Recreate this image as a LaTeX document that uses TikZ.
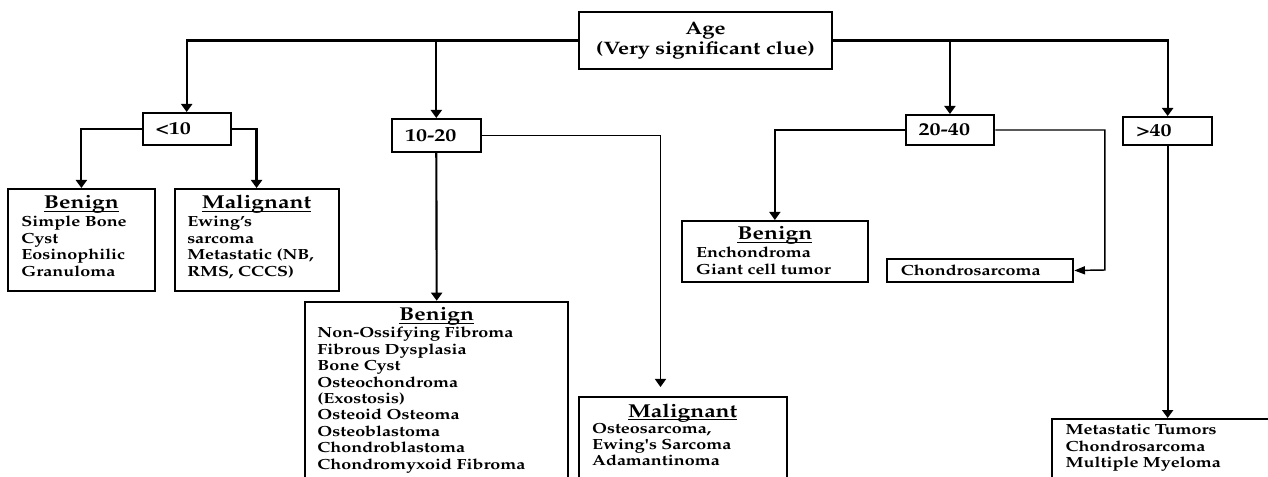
\documentclass[tikz,border=0pt]{standalone}
\usepackage[T1]{fontenc}
\usepackage{mathpazo}
\usepackage{graphicx}
\usetikzlibrary{arrows.meta}
\newdimen\pxu \pxu=0.75pt
\newcommand\sx[1]{\scalebox{1.2245}[1]{#1}}
\newcommand\ulx[1]{\setbox0\hbox{#1}\rlap{\rule[-2pt]{\wd0}{0.8pt}}\box0}
\newcommand\bodyfont{\fontsize{11}{13}\selectfont\bfseries}
\newcommand\headfont{\fontsize{14}{16}\selectfont\bfseries}
\newcommand\labfont{\fontsize{13.5}{15}\selectfont\bfseries}
\tikzset{
  frame/.style={draw, line width=1.5pt, inner sep=0pt, anchor=north west},
  labbox/.style={frame, align=left, font=\labfont, inner xsep=13\pxu},
  txt/.style={inner sep=0pt, font=\bodyfont, anchor=base west},
  head/.style={inner sep=0pt, font=\headfont, anchor=base},
  conn/.style={line width=1.6pt, -{Triangle[length=6pt,width=8.25pt]}},
  thinconn/.style={line width=1.1pt, -{Triangle[length=6pt,width=8.25pt]}},
  hconn/.style={line width=1.1pt, -{Triangle[length=8pt,width=6pt]}},
}
\newcommand\txtlines[4]{%
  \foreach \t [count=\i from 0] in {#4} {%
    \pgfmathsetmacro\yy{#3+\i*16.4}
    \node[txt] (#1-\i) at (#2,\yy) {\sx{\t}};
  }}
\begin{document}
\begin{tikzpicture}[x=0.75pt,y=-0.75pt]
\useasboundingbox (0,0) rectangle (1268,477);
\clip (0,0) rectangle (1268,477);
% top
\node[frame, minimum width=253.8\pxu, minimum height=57\pxu, align=center, font=\labfont] (age) at (577.6,11) {\sx{Age}\\\sx{(Very significant clue)}};
% age groups
\node[labbox, minimum height=32\pxu, text width=62.2\pxu] (lt10) at (141.6,112) {\sx{<10}};
\node[labbox, minimum height=33\pxu, text width=62.6\pxu] (b1020) at (391,118) {\sx{10-20}};
\node[labbox, minimum height=30\pxu, text width=62.7\pxu] (b2040) at (904.6,114) {\sx{20-40}};
\node[labbox, minimum height=28\pxu, text width=62.7\pxu] (gt40) at (1122.3,116) {\sx{>40}};
% result boxes
\node[frame, minimum width=146.2\pxu, minimum height=102\pxu] (ben1) at (7.3,188) {};
\node[frame, minimum width=164.1\pxu, minimum height=102\pxu] (mal1) at (173.5,188) {};
\node[frame, minimum width=263.2\pxu, minimum height=195\pxu] (ben2) at (304.1,300.7) {};
\node[frame, minimum width=208.2\pxu, minimum height=100\pxu] (mal2) at (577.6,396) {};
\node[frame, minimum width=185.9\pxu, minimum height=61\pxu] (ben3) at (680.9,220) {};
\node[frame, minimum width=186\pxu, minimum height=23\pxu] (chon) at (886.3,258) {};
\node[frame, minimum width=260\pxu, minimum height=80\pxu] (meta) at (1051.1,418) {};
% texts
\node[head] (ben1h) at (ben1.north |- 0,209) {\sx{\ulx{Benign}}};
\txtlines{ben1t}{21.2}{227}{Simple Bone,Cyst,Eosinophilic,Granuloma}
\node[head] (mal1h) at (mal1.north |- 0,209) {\sx{\ulx{Malignant}}};
\txtlines{mal1t}{187}{227}{Ewing's,sarcoma,{Metastatic (NB,},{RMS, CCCS)}}
\node[head] (ben2h) at (ben2.north |- 0,321) {\sx{\ulx{Benign}}};
\txtlines{ben2t}{317.1}{338}{Non-Ossifying Fibroma,Fibrous Dysplasia,Bone Cyst,Osteochondroma,(Exostosis),Osteoid Osteoma,Osteoblastoma,Chondroblastoma,Chondromyxoid Fibroma}
\node[head] (mal2h) at (mal2.north |- 0,417) {\sx{\ulx{Malignant}}};
\txtlines{mal2t}{591.8}{433}{{Osteosarcoma,},Ewing\textquotesingle s Sarcoma,Adamantinoma}
\node[head] (ben3h) at (ben3.north |- 0,240) {\sx{\ulx{Benign}}};
\txtlines{ben3t}{695.9}{258}{Enchondroma,Giant cell tumor}
\txtlines{chont}{900.6}{276}{Chondrosarcoma}
\txtlines{metat}{1065.4}{435}{Metastatic Tumors,Chondrosarcoma,Multiple Myeloma}
% connectors
\coordinate (m2in) at (660.5,387);
\coordinate (cturn) at (1104.8,270);
\draw[conn] (age.west) -| (lt10.north);
\draw[conn] (age.west -| b1020.north) -- (b1020.north);
\draw[conn] (age.east) -| (gt40.north);
\draw[conn] (age.east -| b2040.north) -- (b2040.north);
\draw[conn] (lt10.west) -| (ben1.north);
\draw[conn] (lt10.east) -| (mal1.north);
\draw[conn] (b1020.south) -- (ben2.north);
\draw[thinconn] (b1020.east) -| (m2in);
\draw[thinconn] (b2040.west) -| (ben3.north);
\draw[hconn] (b2040.east) -| (cturn) -- (chon.east);
\draw[conn] (gt40.south) -- (gt40.south |- meta.north);
\end{tikzpicture}
\end{document}
